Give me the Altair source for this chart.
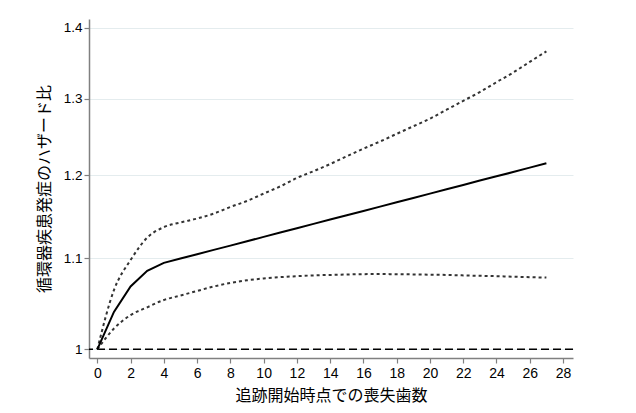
import altair as alt
import pandas as pd

lost_teeth = list(range(28))
hr = [1.000, 1.040, 1.068, 1.0856, 1.0947, 1.0997, 1.1047, 1.1097, 1.1147, 1.1198,
      1.1249, 1.1300, 1.1351, 1.1403, 1.1455, 1.1506, 1.1559, 1.1611, 1.1664, 1.1717,
      1.1770, 1.1823, 1.1877, 1.1932, 1.1985, 1.2039, 1.2095, 1.2150]
upper = [1.000, 1.064, 1.098, 1.124, 1.1365, 1.142, 1.1467, 1.1527, 1.1607, 1.168,
         1.177, 1.186, 1.1964, 1.205, 1.214, 1.224, 1.2337, 1.243, 1.253, 1.263,
         1.273, 1.285, 1.297, 1.309, 1.3226, 1.336, 1.351, 1.366]
lower = [1.000, 1.022, 1.0365, 1.045, 1.053, 1.058, 1.063, 1.068, 1.072, 1.075,
         1.077, 1.0785, 1.0796, 1.0805, 1.081, 1.0815, 1.0819, 1.082, 1.0818, 1.0816,
         1.0813, 1.081, 1.0805, 1.080, 1.0796, 1.079, 1.0785, 1.078]
x_ticks = list(range(0, 29, 2))
y_ticks = [1, 1.1, 1.2, 1.3, 1.4]

df = pd.DataFrame({"x": lost_teeth, "hr": hr, "upper": upper, "lower": lower})
ref = pd.DataFrame({"y": [1.0]})

label_font = "Liberation Sans"
title_font = "Noto Sans CJK JP"

xscale = alt.Scale(domain=[-0.5, 28.6], nice=False, zero=False)
yscale = alt.Scale(type="log", domain=[0.991, 1.413], nice=False, zero=False)

xaxis = alt.Axis(values=x_ticks, title="追跡開始時点での喪失歯数", grid=False,
                 domainColor="#808080", domainWidth=1.5, tickColor="#808080",
                 tickSize=5, tickWidth=1.2, labelFont=label_font, labelFontSize=14,
                 labelColor="#000", labelPadding=3, titleFont=title_font,
                 titleFontSize=16, titleFontWeight="normal", titleColor="#000",
                 titleBaseline="middle", titleY=37)
yaxis = alt.Axis(values=y_ticks, format="~g", title="循環器疾患発症のハザード比",
                 grid=True, gridColor="#e4ecee", gridWidth=1,
                 domainColor="#808080", domainWidth=1.5, tickColor="#808080",
                 tickSize=5, tickWidth=1.2, labelFont=label_font, labelFontSize=13.5,
                 labelColor="#000", labelPadding=2, titleFont=title_font,
                 titleFontSize=16, titleFontWeight="normal", titleColor="#000",
                 titleBaseline="middle", titleX=-45)

base = alt.Chart(df)

ref_line = alt.Chart(ref).mark_rule(color="#000", strokeWidth=1.5, strokeDash=[8, 4]).encode(
    y=alt.Y("y:Q", scale=yscale, axis=yaxis)
)
upper_line = base.mark_line(color="#333", strokeWidth=2, strokeDash=[3, 3],
                            interpolate="monotone").encode(
    x=alt.X("x:Q", scale=xscale, axis=xaxis),
    y=alt.Y("upper:Q", scale=yscale, axis=yaxis),
)
lower_line = base.mark_line(color="#333", strokeWidth=2, strokeDash=[3, 3],
                            interpolate="monotone").encode(
    x=alt.X("x:Q", scale=xscale, axis=xaxis),
    y=alt.Y("lower:Q", scale=yscale, axis=yaxis),
)
hr_line = base.mark_line(color="#000", strokeWidth=2).encode(
    x=alt.X("x:Q", scale=xscale, axis=xaxis),
    y=alt.Y("hr:Q", scale=yscale, axis=yaxis),
)

chart = alt.layer(ref_line, lower_line, upper_line, hr_line).properties(
    width=484, height=339,
    autosize=alt.AutoSizeParams(type="none"),
    padding={"left": 81, "top": 11, "right": 20, "bottom": 47},
    background="white",
).configure_view(stroke=None)

chart.save("out.html", embed_options={"renderer": "svg", "actions": False})
